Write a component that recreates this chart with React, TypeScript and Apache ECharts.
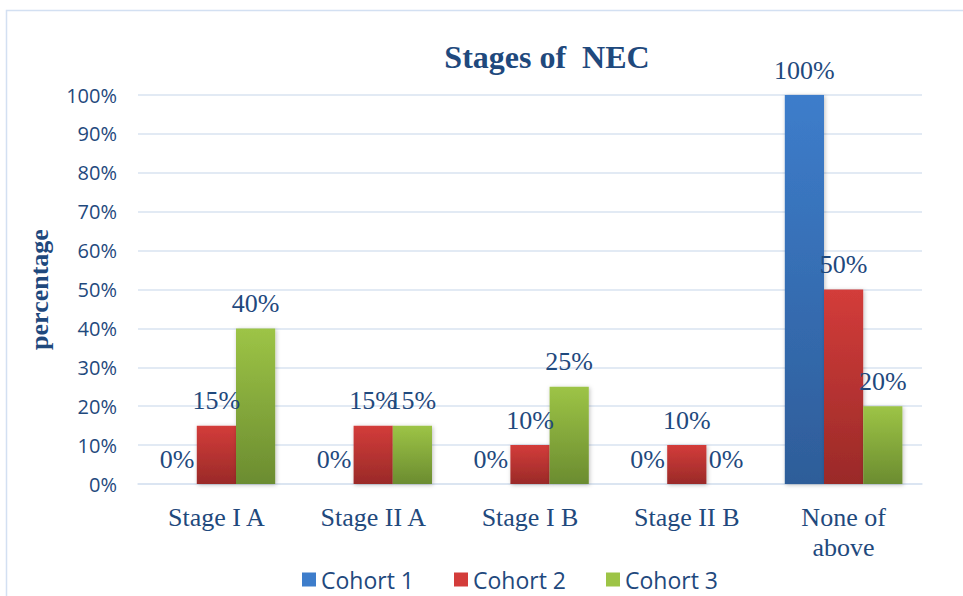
import React, { useEffect, useRef } from "react";
import * as echarts from "echarts";

const categories = ["Stage I A", "Stage II A", "Stage I B", "Stage II B", "None of above"];
const cohort1 = [0, 0, 0, 0, 100];
const cohort2 = [15, 15, 10, 10, 50];
const cohort3 = [40, 15, 25, 0, 20];
const seriesNames = ["Cohort 1", "Cohort 2", "Cohort 3"];
const yTicks = [0, 10, 20, 30, 40, 50, 60, 70, 80, 90, 100];

const textBlue = "#1f497d";
const serif = "'Liberation Serif', 'Times New Roman', serif";
const sans = "'Open Sans', 'Noto Sans', sans-serif";

function grad(top: string, bottom: string) {
  return new echarts.graphic.LinearGradient(0, 0, 0, 1, [
    { offset: 0, color: top },
    { offset: 1, color: bottom },
  ]);
}

export default function App() {
  const ref = useRef<HTMLDivElement>(null);
  useEffect(() => {
    document.body.style.margin = "0";
    if (!ref.current) return;
    const chart = echarts.init(ref.current, null, { renderer: "svg" });
    const colors = [
      ["#3d7dcb", "#2e5d99"],
      ["#d33c3a", "#9a2a28"],
      ["#9dc446", "#6b8c30"],
    ];
    const datas = [cohort1, cohort2, cohort3];
    chart.setOption({
      animation: false,
      backgroundColor: "#ffffff",
      color: colors.map((c) => c[0]),
      title: {
        text: "Stages of  NEC",
        left: 542,
        textAlign: "center",
        top: 36,
        textStyle: { fontFamily: serif, fontSize: 32, fontWeight: "bold", color: textBlue },
      },
      legend: {
        bottom: 0,
        left: 297,
        itemWidth: 14,
        itemHeight: 14,
        itemGap: 40,
        icon: "rect",
        textStyle: { fontFamily: sans, fontSize: 23, color: textBlue },
        data: seriesNames.map((n, i) => ({ name: n, itemStyle: { color: colors[i][0] } })),
      },
      grid: { left: 138, right: 41, top: 95, bottom: 112 },
      xAxis: {
        type: "category",
        data: categories,
        axisLine: { show: true, lineStyle: { color: "#d9e3f1", width: 1.5 } },
        axisTick: { show: false },
        axisLabel: {
          fontFamily: serif,
          fontSize: 26,
          color: textBlue,
          margin: 18,
          lineHeight: 30,
          formatter: (v: string) => (v === "None of above" ? "None of\nabove" : v),
        },
      },
      yAxis: {
        type: "value",
        min: 0,
        max: yTicks[yTicks.length - 1],
        interval: 10,
        name: "percentage",
        nameLocation: "middle",
        nameGap: 86,
        nameTextStyle: { fontFamily: serif, fontSize: 26, fontWeight: "bold", color: textBlue },
        axisLine: { show: false },
        axisTick: { show: false },
        axisLabel: {
          fontFamily: sans,
          fontSize: 20,
          color: textBlue,
          margin: 21,
          formatter: "{value}%",
        },
        splitLine: { lineStyle: { color: "#d9e3f1", width: 1.5 } },
      },
      series: datas.map((d, i) => ({
        name: seriesNames[i],
        type: "bar",
        data: d,
        barGap: "0%",
        barCategoryGap: "25%",
        itemStyle: {
          color: grad(colors[i][0], colors[i][1]),
          shadowColor: "rgba(0,0,0,0.25)",
          shadowBlur: 4,
          shadowOffsetX: 1,
          shadowOffsetY: 1,
        },
        label: {
          show: true,
          position: "top",
          distance: 12,
          formatter: "{c}%",
          fontFamily: serif,
          fontSize: 26,
          color: textBlue,
        },
      })),
      graphic: [
        {
          type: "rect",
          shape: { x: 6.5, y: 10.5, width: 1000, height: 700 },
          style: { fill: "none", stroke: "#d3e0f2", lineWidth: 1.5 },
          silent: true,
          z: -1,
        },
      ],
    });
    return () => chart.dispose();
  }, []);
  return <div ref={ref} style={{ width: 963, height: 596 }} />;
}
